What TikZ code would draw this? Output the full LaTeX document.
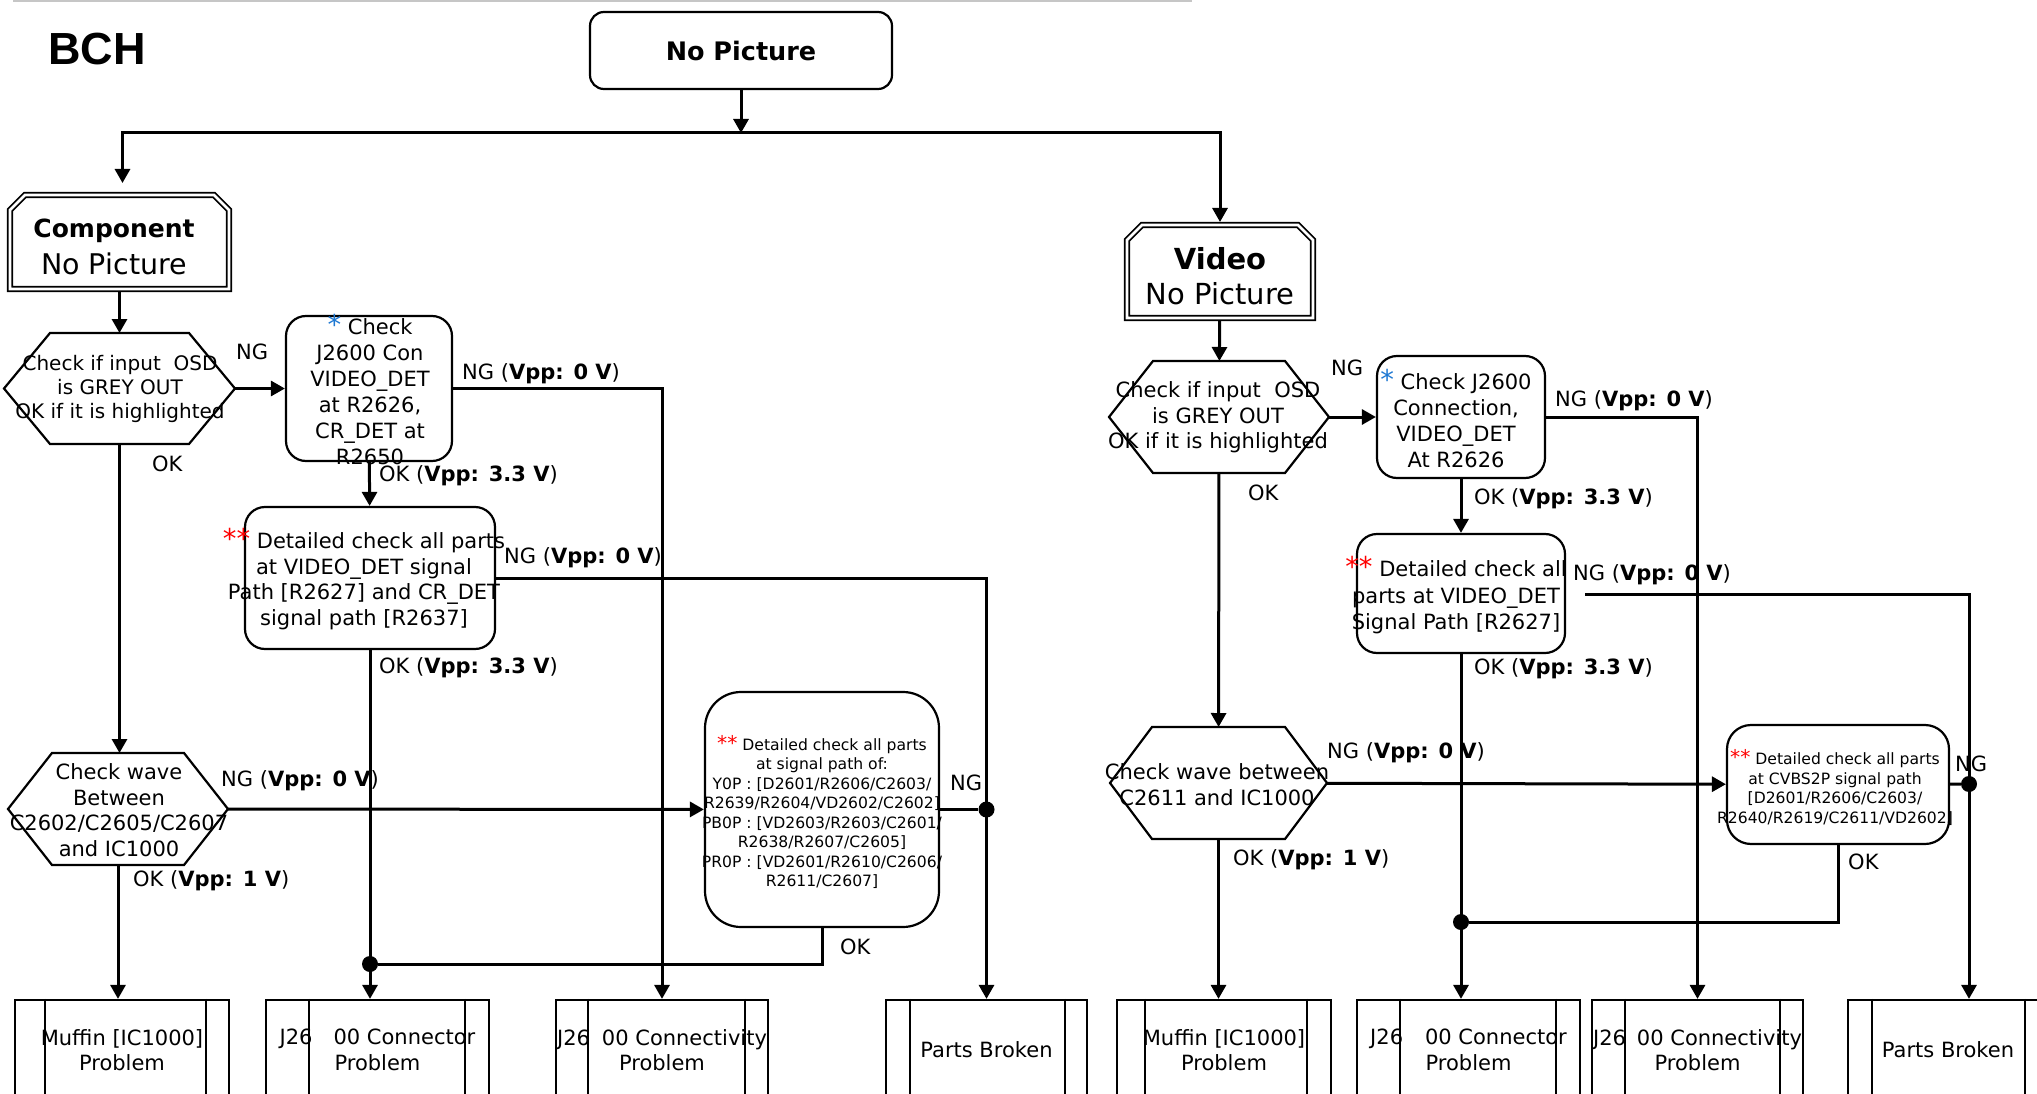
\documentclass[tikz,border=0pt]{standalone}
\usepackage{fontspec}
\setmainfont{DejaVu Sans}
\newfontfamily\titlefont{Liberation Sans}
\usepackage{xcolor}
\usepackage{tikz}
\usetikzlibrary{arrows.meta,positioning,calc}

\definecolor{astblue}{RGB}{30,120,210}
\newcommand\txtsize{\fontsize{21}{25.5}\selectfont}
\newcommand\smallsize{\fontsize{15.6}{19.5}\selectfont}
\newcommand\bluestar{\textcolor{astblue}{\scalebox{1.3}{*}}}
\newcommand\redstars{\textcolor{red}{\scalebox{1.3}{**}}}

\begin{document}
\begin{tikzpicture}[x=1pt, y=-1pt,
    >={Triangle[length=14pt,width=15pt]},
    flow/.style={line width=3pt},
    box/.style={draw, line width=2.2pt, rounded corners=20pt, inner sep=0pt},
    hexa/.style={inner sep=0pt, outer sep=0pt},
    proc/.style={draw, line width=2.2pt, minimum height=100pt, inner sep=0pt, align=center, font=\txtsize},
    txt/.style={inner sep=0pt, align=center, font=\txtsize},
    tinytxt/.style={inner sep=0pt, align=center, font=\smallsize},
    lbl/.style={inner sep=0pt, anchor=west, font=\txtsize},
    dot/.style={circle, fill, inner sep=0pt, minimum size=16pt}]
  \path[use as bounding box, clip] (0,0) rectangle (2037,1094);
  \draw[gray!45, line width=2.5pt] (13,1) -- (1192,1);

  % top
  \node[font=\titlefont\bfseries\fontsize{45}{50}\selectfont, inner sep=0pt] (bch) at (97,49.5) {BCH};
  \node[box, rounded corners=14pt, minimum width=302pt, minimum height=77pt,
        font=\fontsize{25.5}{30}\selectfont\bfseries] (np) at (741,50.5) {No Picture};
  \coordinate (j0) at (741,133);
  \node[inner sep=0pt, outer sep=0pt, minimum width=219pt, minimum height=94pt] (comp) at (119.5,242) {};
  \node[align=center, inner sep=0pt, font=\fontsize{28.5}{37}\selectfont] (compt) at (114,246.5)
        {{\fontsize{25}{37}\selectfont\bfseries Component}\\No Picture};
  \node[inner sep=0pt, outer sep=0pt, minimum width=186pt, minimum height=93pt] (vid) at (1220,271.5) {};
  \node[align=center, inner sep=0pt, font=\fontsize{29}{35}\selectfont] (vidt) at (1220,276.5)
        {{\bfseries Video}\\No Picture};
  \foreach \n in {comp,vid}
    \draw[line width=1.8pt, double, double distance=2.6pt]
      (\n.south west) -- ([yshift=-15pt]\n.north west) -- ([xshift=15pt]\n.north west)
      -- ([xshift=-15pt]\n.north east) -- ([yshift=-15pt]\n.north east) -- (\n.south east) -- cycle;
  \draw[flow,->] (np) -- (j0);
  \draw[flow,->,shorten >=12pt] (j0) -| ([xshift=3pt]comp.north);
  \draw[flow,->,shorten >=3pt] (j0) -| (vid);

  % component side
  \node[hexa, minimum width=231pt, minimum height=111pt] (h1) at (119.5,388.5) {};
  \node[txt, font=\fontsize{20}{24}\selectfont] (h1t) at (120,389)
        {Check if input\ \ OSD\\is GREY OUT\\OK if it is highlighted};
  \node[box, minimum width=166pt, minimum height=145pt] (c1) at (369,388.5) {};
  \node[txt, font=\fontsize{21}{26}\selectfont] (c1t) at (370,390)
        {\bluestar\ Check\\J2600 Con\\VIDEO\_DET\\at R2626,\\CR\_DET at\\R2650};
  \node[box, minimum width=250pt, minimum height=142pt] (d1) at (370,578) {};
  \node[txt] (d1t) at (364,579)
        {\redstars\ Detailed check all parts\\at VIDEO\_DET signal\\Path [R2627] and CR\_DET\\signal path [R2637]};
  \node[hexa, minimum width=220pt, minimum height=112pt] (h2) at (118,809) {};
  \node[txt] (h2t) at (119,810) {Check wave\\Between\\C2602/C2605/C2607\\and IC1000};
  \node[box, rounded corners=36pt, minimum width=234pt, minimum height=235pt] (d2) at (822,809.5) {};
  \node[tinytxt] (d2t) at (822,812)
        {\redstars\ Detailed check all parts\\at signal path of:\\Y0P : [D2601/R2606/C2603/\\R2639/R2604/VD2602/C2602]\\PB0P : [VD2603/R2603/C2601/\\R2638/R2607/C2605]\\PR0P : [VD2601/R2610/C2606/\\R2611/C2607]};
  \node[proc, minimum width=214pt] (mu1) at (122,1050) {Muffin [IC1000]\\Problem};
  \node[proc, minimum width=223pt] (cn1) at (377.5,1050) {J26\hspace{21pt}00 Connector\\Problem};
  \node[proc, minimum width=212pt] (cy1) at (662,1050) {J26\hspace{12pt}00 Connectivity\\Problem};
  \node[proc, minimum width=201pt] (pb1) at (986.5,1050) {Parts Broken};
  \node[dot] (k1) at (d2 -| pb1) {};
  \node[dot] (k2) at (370,964) {};

  \draw[flow,->,shorten <=3pt] (comp) -- (h1);
  \draw[flow,->] (h1) -- (c1);
  \draw[flow,->] (c1) -- (d1);
  \draw[flow,->] (c1) -| (cy1);
  \draw[flow,->] (d1) -| (pb1);
  \draw[flow,->] (h1.south) -- (h1.south |- h2.north);
  \draw[flow,->] (h2) -- (d2);
  \draw[flow] (d2) -- (k1);
  \draw[flow] (d2) |- (k2);
  \draw[flow,->] (d1) -- (d1 |- cn1.north);
  \draw[flow,->] (h2) -- (h2 |- mu1.north);

  \node[lbl] at (236,352) {NG};
  \node[lbl] at (152,464) {OK};
  \node[lbl] at (462,374) {NG (\textbf{Vpp: 0 V})};
  \node[lbl] at (379,476) {OK (\textbf{Vpp: 3.3 V})};
  \node[lbl] at (504,558) {NG (\textbf{Vpp: 0 V})};
  \node[lbl] at (379,668) {OK (\textbf{Vpp: 3.3 V})};
  \node[lbl] at (221,781) {NG (\textbf{Vpp: 0 V})};
  \node[lbl] at (133,881) {OK (\textbf{Vpp: 1 V})};
  \node[lbl] at (950,783) {NG};
  \node[lbl] at (840,947) {OK};

  % video side
  \node[hexa, minimum width=220pt, minimum height=112pt] (h3) at (1219,417) {};
  \node[txt] (h3t) at (1218,417.5) {Check if input\ \ OSD\\is GREY OUT\\OK if it is highlighted};
  \node[box, minimum width=168pt, minimum height=122pt] (c3) at (1461,417) {};
  \node[txt, font=\fontsize{21}{25.7}\selectfont] (c3t) at (1456,418.5)
        {\bluestar\ Check J2600\\Connection,\\VIDEO\_DET\\At R2626};
  \node[box, minimum width=208pt, minimum height=119pt] (d3) at (1461,593.5) {};
  \node[txt, font=\fontsize{21}{26.5}\selectfont] (d3t) at (1456,595.5)
        {\redstars\ Detailed check all\\parts at VIDEO\_DET\\Signal Path [R2627]};
  \node[hexa, minimum width=217pt, minimum height=112pt] (h4) at (1218.5,783) {};
  \node[txt] (h4t) at (1217,784.5) {Check wave between\\C2611 and IC1000};
  \node[box, rounded corners=24pt, minimum width=222pt, minimum height=119pt] (b4) at (1838,784.5) {};
  \node[tinytxt, font=\fontsize{15.6}{19.7}\selectfont] (b4t) at (1835,787.5)
        {\redstars\ Detailed check all parts\\at CVBS2P signal path\\{[}D2601/R2606/C2603/\\R2640/R2619/C2611/VD2602]};
  \node[proc, minimum width=214pt] (mu2) at (1224,1050) {Muffin [IC1000]\\Problem};
  \node[proc, minimum width=223pt] (cn2) at (1468.5,1050) {J26\hspace{22pt}00 Connector\\Problem};
  \node[proc, minimum width=211pt] (cy2) at (1697.5,1050) {J26\hspace{11pt}00 Connectivity\\Problem};
  \node[proc, minimum width=200pt] (pb2) at (1948,1050) {Parts Broken};
  \coordinate (g2) at (1585,594);
  \node[dot] (k3) at (1969,784) {};
  \node[dot] (k4) at (1461,922) {};

  \draw[flow,->,shorten <=3pt] (vid) -- (h3);
  \draw[flow,->] (h3) -- (c3);
  \draw[flow,->] (c3) -- (d3);
  \draw[flow,->] (c3) -| (cy2);
  \draw[flow,->] (g2) -| ([xshift=21pt]pb2.north);
  \draw[flow,->] (h3) -- (h4);
  \draw[flow,->] (h4) -- (b4);
  \draw[flow] (b4) -- (k3);
  \draw[flow] (b4) |- (k4);
  \draw[flow,->] (d3) -- (d3 |- cn2.north);
  \draw[flow,->] (h4) -- (h4 |- mu2.north);

  \node[lbl] at (1331,368) {NG};
  \node[lbl] at (1248,493) {OK};
  \node[lbl] at (1555,401) {NG (\textbf{Vpp: 0 V})};
  \node[lbl] at (1474,499) {OK (\textbf{Vpp: 3.3 V})};
  \node[lbl] at (1573,575) {NG (\textbf{Vpp: 0 V})};
  \node[lbl] at (1474,669) {OK (\textbf{Vpp: 3.3 V})};
  \node[lbl] at (1327,753) {NG (\textbf{Vpp: 0 V})};
  \node[lbl] at (1233,860) {OK (\textbf{Vpp: 1 V})};
  \node[lbl] at (1955,764) {NG};
  \node[lbl] at (1848,862) {OK};

  % hexagon outlines and process box sides
  \foreach \n/\ins in {h1/46,h2/44,h3/44,h4/42}
    \draw[line width=2.2pt] (\n.west) -- ([xshift=\ins pt]\n.north west) -- ([xshift=-\ins pt]\n.north east)
      -- (\n.east) -- ([xshift=-\ins pt]\n.south east) -- ([xshift=\ins pt]\n.south west) -- cycle;
  \foreach \n/\lft/\rgt in {mu1/31/24,cn1/44/25,cy1/33/24,pb1/25/23,mu2/29/25,cn2/44/25,cy2/34/24,pb2/25/24}{
    \draw[line width=2.2pt] ([xshift=\lft pt]\n.north west) -- ([xshift=\lft pt]\n.south west);
    \draw[line width=2.2pt] ([xshift=-\rgt pt]\n.north east) -- ([xshift=-\rgt pt]\n.south east);
  }
\end{tikzpicture}
\end{document}
